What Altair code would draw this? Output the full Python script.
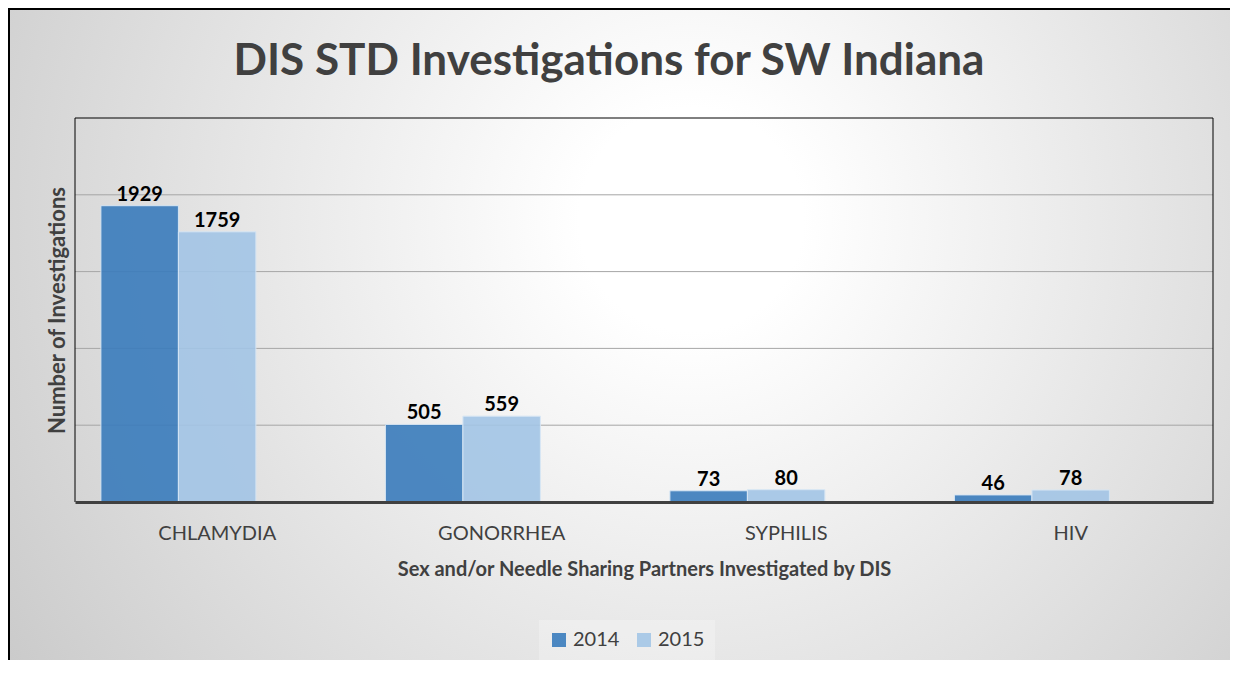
import altair as alt
import pandas as pd

categories = ["CHLAMYDIA", "GONORRHEA", "SYPHILIS", "HIV"]
years = ["2014", "2015"]
values_2014 = [1929, 505, 73, 46]
values_2015 = [1759, 559, 80, 78]
grid_values = [500, 1000, 1500, 2000]
title_text = ["DIS STD Investigations for SW Indiana"]

rows = []
for c, a, b in zip(categories, values_2014, values_2015):
    rows.append({"category": c, "year": "2014", "value": a})
    rows.append({"category": c, "year": "2015", "value": b})
df = pd.DataFrame(rows)

W, H = 1138, 384
PL, PT, PR, PB = 67, 110, 17, 158
FONT = "Lato"
one = pd.DataFrame({"k": [0]})

bg = alt.Chart(one).mark_rect(
    fill=alt.RadialGradient(
        gradient="radial",
        x1=0.55, y1=0.4, r1=0.0,
        x2=0.55, y2=0.4, r2=0.75,
        stops=[alt.GradientStop(color="#ffffff", offset=0.0),
               alt.GradientStop(color="#ffffff", offset=0.12),
               alt.GradientStop(color="#c2c2c2", offset=1.0)],
    ),
    strokeWidth=0,
).encode(
    x=alt.value(-PL), x2=alt.value(W + PR + 20),
    y=alt.value(-PT), y2=alt.value(H + PB + 20),
)

left_border = alt.Chart(one).mark_rule(color="#000000", strokeWidth=2).encode(
    x=alt.value(-PL + 1), y=alt.value(-PT), y2=alt.value(H + PB))
top_border = alt.Chart(one).mark_rule(color="#000000", strokeWidth=2).encode(
    y=alt.value(-PT + 1), x=alt.value(-PL), x2=alt.value(W + PR + 20))

plot_left = alt.Chart(one).mark_rule(color="#000000", strokeWidth=1).encode(
    x=alt.value(0), y=alt.value(0), y2=alt.value(H))
plot_right = alt.Chart(one).mark_rule(color="#000000", strokeWidth=1).encode(
    x=alt.value(W), y=alt.value(0), y2=alt.value(H))
plot_top = alt.Chart(one).mark_rule(color="#000000", strokeWidth=1).encode(
    y=alt.value(0), x=alt.value(0), x2=alt.value(W))

y_scale = alt.Scale(domain=[0, 2500], nice=False)
y_axis = alt.Axis(
    title="Number of Investigations", values=grid_values,
    labels=False, ticks=False, domain=False, grid=False, zindex=1,
    titleFont=FONT, titleFontSize=22, titleFontWeight=700,
    titleColor="#404040", titleX=-18, titleY=H / 2,
    titleAlign="center", titleBaseline="middle", titleAngle=270,
)

grid = alt.Chart(pd.DataFrame({"value": grid_values})).mark_rule(
    color="#a6a6a6", strokeWidth=1
).encode(
    y=alt.Y("value:Q", scale=y_scale, axis=y_axis),
    x=alt.value(0), x2=alt.value(W),
)

title = alt.Chart(pd.DataFrame({"t": title_text})).mark_text(
    font=FONT, fontSize=44, fontWeight="bold", color="#404040",
    align="center", baseline="alphabetic",
).encode(text="t:N", x=alt.value(534), y=alt.value(-43))

x_enc = alt.X(
    "category:N", sort=categories,
    scale=alt.Scale(paddingInner=0, paddingOuter=0),
    axis=alt.Axis(
        title="Sex and/or Needle Sharing Partners Investigated by DIS",
        labelAngle=0, labelFont=FONT, labelFontSize=20, labelColor="#404040",
        labelPadding=21, ticks=False, domainColor="#404040", domainWidth=3,
        titleFont=FONT, titleFontSize=20, titleFontWeight="bold",
        titleColor="#404040", titlePadding=16, zindex=1, grid=False,
    ),
)
xoff = alt.XOffset(
    "year:N", sort=years,
    scale=alt.Scale(paddingInner=0, paddingOuter=0.8355, align=0.2),
)
y_enc = alt.Y("value:Q", scale=y_scale, axis=y_axis)

bars = alt.Chart(df).mark_bar(
    opacity=0.9, stroke="#d6e6f5", strokeWidth=1
).encode(
    x=x_enc,
    xOffset=xoff,
    y=y_enc,
    color=alt.Color(
        "year:N", sort=years,
        scale=alt.Scale(domain=years, range=["#3a7cbc", "#a3c5e6"]),
        legend=alt.Legend(
            title=None, orient="none", legendX=464, legendY=502,
            direction="horizontal", symbolType="square", symbolSize=196,
            symbolStrokeWidth=0, symbolOpacity=0.9, labelFont=FONT,
            labelFontSize=20, labelColor="#404040", labelOffset=4,
            columnPadding=14, padding=10,
            fillColor="rgba(255,255,255,0.25)",
        ),
    ),
)

labels = alt.Chart(df).mark_text(
    font=FONT, fontSize=20, fontWeight="bold", color="#000000",
    baseline="alphabetic", dy=-5,
).encode(
    x=alt.X("category:N", sort=categories),
    xOffset=xoff,
    y=alt.Y("value:Q", scale=y_scale, axis=y_axis),
    text="value:Q",
)

chart = alt.layer(
    bg, left_border, top_border, grid, plot_left, plot_right, plot_top,
    bars, labels, title,
).properties(
    width=W, height=H,
    padding={"left": PL, "top": PT, "right": PR, "bottom": PB},
    autosize=alt.AutoSizeParams(type="none"),
).configure_view(
    strokeWidth=0
).configure(background="#ffffff")

chart.save("out.html", embed_options={"renderer": "svg", "actions": False})
